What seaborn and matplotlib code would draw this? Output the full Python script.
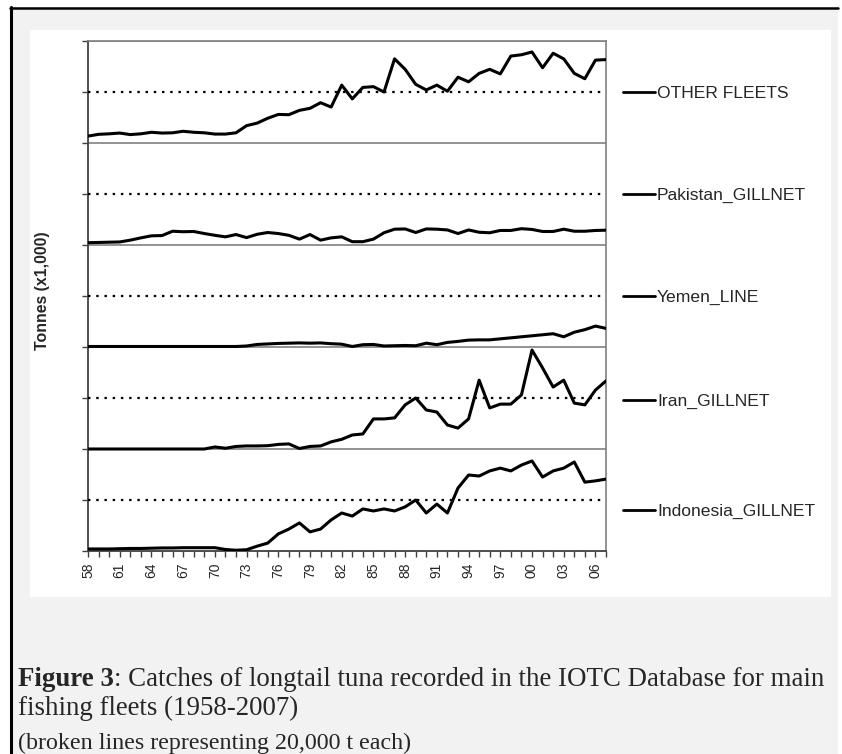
import numpy as np
import pandas as pd
import matplotlib
matplotlib.use("Agg")
import matplotlib.pyplot as plt
import seaborn as sns
from matplotlib.lines import Line2D
from matplotlib.patches import Rectangle

# ---------------- data (thousand tonnes) ----------------
years = list(range(1958, 2008))
fleets = ["OTHER FLEETS", "Pakistan_GILLNET", "Yemen_LINE", "Iran_GILLNET", "Indonesia_GILLNET"]

other_fleets = [2.7, 3.4, 3.6, 3.9, 3.3, 3.6, 4.2, 3.9, 4.0, 4.6,
                4.2, 4.0, 3.5, 3.5, 4.0, 6.8, 7.8, 9.7, 11.2, 11.1,
                12.8, 13.6, 15.8, 14.1, 22.7, 17.3, 21.8, 22.1, 20.0, 33.0,
                28.9, 23.0, 20.8, 22.7, 20.3, 25.8, 24.0, 27.3, 28.9, 27.1,
                34.1, 34.6, 35.7, 29.5, 35.2, 33.0, 27.3, 25.2, 32.5, 32.7]
pakistan_gillnet = [0.9, 1.0, 1.1, 1.2, 1.9, 2.8, 3.6, 3.7, 5.4, 5.2,
                    5.3, 4.5, 3.8, 3.2, 4.1, 2.9, 4.2, 4.9, 4.5, 3.8,
                    2.3, 4.1, 1.9, 2.8, 3.2, 1.3, 1.3, 2.3, 4.8, 6.2,
                    6.3, 4.9, 6.3, 6.2, 5.9, 4.5, 5.9, 5.0, 4.8, 5.7,
                    5.7, 6.4, 6.1, 5.3, 5.3, 6.2, 5.4, 5.4, 5.7, 5.8]
yemen_line = [0.2, 0.2, 0.2, 0.2, 0.2, 0.2, 0.2, 0.2, 0.2, 0.2,
              0.2, 0.2, 0.2, 0.2, 0.2, 0.4, 1.0, 1.2, 1.4, 1.5,
              1.6, 1.5, 1.6, 1.3, 1.1, 0.2, 0.9, 1.0, 0.4, 0.5,
              0.6, 0.5, 1.5, 0.9, 1.8, 2.2, 2.7, 2.8, 2.8, 3.2,
              3.6, 4.0, 4.4, 4.8, 5.2, 4.0, 5.8, 6.8, 8.2, 7.3]
iran_gillnet = [0.0, 0.0, 0.0, 0.0, 0.0, 0.0, 0.0, 0.0, 0.0, 0.0,
                0.0, 0.0, 0.8, 0.3, 1.0, 1.2, 1.2, 1.3, 1.8, 2.0,
                0.2, 1.0, 1.2, 2.8, 3.8, 5.5, 5.9, 11.8, 11.8, 12.2,
                17.3, 20.0, 15.3, 14.5, 9.4, 8.2, 11.8, 27.0, 16.1, 17.6,
                17.6, 21.2, 38.8, 31.8, 24.3, 27.0, 18.0, 17.3, 23.1, 26.7]
indonesia_gillnet = [0.8, 0.8, 0.8, 0.9, 1.0, 1.0, 1.1, 1.2, 1.2, 1.3,
                     1.3, 1.3, 1.3, 0.6, 0.3, 0.5, 1.9, 3.1, 6.7, 8.6,
                     11.0, 7.5, 8.6, 12.2, 14.9, 13.7, 16.5, 15.7, 16.5, 15.7,
                     17.3, 20.0, 14.9, 18.4, 14.9, 24.7, 29.8, 29.4, 31.4, 32.5,
                     31.4, 33.7, 35.3, 29.0, 31.4, 32.5, 34.9, 27.0, 27.5, 28.2]

series = [other_fleets, pakistan_gillnet, yemen_line, iran_gillnet, indonesia_gillnet]
panel_size = 40000  # each fleet gets its own 40,000 t band
n = len(fleets)

rows = []
for k, (name, vals) in enumerate(zip(fleets, series)):
    offset = (n - 1 - k) * panel_size
    for y, v in zip(years, vals):
        rows.append({"year": y, "fleet": name, "plotted": offset + v * 1000})
df = pd.DataFrame(rows)

# ---------------- figure ----------------
sns.set_theme(style="white")
plt.rcParams["font.family"] = ["Liberation Sans", "DejaVu Sans"]

W, H = 842, 754
fig = plt.figure(figsize=(W / 100, H / 100), dpi=100, facecolor="white")

def fx(px):
    return px / W

def fy(py):
    return 1 - py / H

# gray page box with black border (left/top)
fig.patches.append(Rectangle((fx(10), fy(754)), fx(828), (754 - 7) / H,
                             transform=fig.transFigure, facecolor="#f2f2f2",
                             edgecolor="none", zorder=-3))
fig.add_artist(Line2D([fx(10.5), fx(10.5)], [fy(7), fy(754)], color="black", lw=2.2,
                      transform=fig.transFigure, zorder=-1))
fig.add_artist(Line2D([fx(10), fx(838)], [fy(7.5), fy(7.5)], color="black", lw=1.8,
                      transform=fig.transFigure, zorder=-1))
# white chart area
fig.patches.append(Rectangle((fx(30), fy(597)), fx(801), (597 - 30) / H,
                             transform=fig.transFigure, facecolor="white",
                             edgecolor="none", zorder=-2))

ax = fig.add_axes([fx(88), fy(551), fx(606 - 88), (551 - 41) / H])
ax.set_zorder(2)
ax.set_facecolor("white")

sns.lineplot(data=df, x="year", y="plotted", hue="fleet", hue_order=fleets,
             palette=["black"] * n, linewidth=2.2, legend=False, ax=ax, zorder=5)

ax.set_xlim(years[0], years[-1])
ax.set_ylim(0, panel_size * n)

# panel separators and 20,000 t broken lines
for k in range(1, n + 1):
    ax.axhline(k * panel_size, color="#808080", lw=1.2, zorder=2)
for k in range(n):
    ax.axhline(k * panel_size + panel_size / 2, color="black", lw=1.6,
               linestyle=(0, (1.1, 2.6)), zorder=3)

for side in ["top", "right"]:
    ax.spines[side].set_visible(True)
    ax.spines[side].set_color("#808080")
    ax.spines[side].set_linewidth(1.2)
for side in ["left", "bottom"]:
    ax.spines[side].set_color("#404040")
    ax.spines[side].set_linewidth(1.3)

ax.set_yticks(np.arange(0, panel_size * n + 1, panel_size / 2))
ax.set_yticklabels([])
ax.tick_params(axis="y", direction="out", length=4, width=1.0, color="#404040", left=True)

ax.set_xticks(years)
ax.set_xticklabels([f"{y % 100:02d}" if (y - years[0]) % 3 == 0 else "" for y in years],
                   rotation=90, fontsize=10)
ax.tick_params(axis="x", direction="out", length=4.5, width=1.0, color="#404040",
               bottom=True, pad=4)

ax.set_xlabel("")
ax.set_ylabel("")
fig.text(fx(42), fy(291), "Tonnes (x1,000)", rotation=90, ha="center", va="center",
         fontsize=11.4, fontweight="bold")

# legend entries at right
legend_y = [92, 194, 296, 400, 510]
for name, ly in zip(fleets, legend_y):
    fig.add_artist(Line2D([fx(623), fx(655)], [fy(ly), fy(ly)], color="black", lw=2.0,
                          transform=fig.transFigure))
    fig.text(fx(657), fy(ly + 1), name, ha="left", va="center", fontsize=12.6)

# caption
serif = ["Liberation Serif", "DejaVu Serif"]
cap_fs = 19.4
t = fig.text(fx(18), fy(680), "Figure 3", ha="left", va="center", fontsize=cap_fs,
             family=serif, fontweight="bold")
fig.canvas.draw()
bb = t.get_window_extent()
fig.text(bb.x1 / W, fy(680), ": Catches of longtail tuna recorded in the IOTC Database for main",
         ha="left", va="center", fontsize=cap_fs, family=serif)
fig.text(fx(18), fy(708), "fishing fleets (1958-2007)", ha="left", va="center",
         fontsize=cap_fs, family=serif)
fig.text(fx(18), fy(743), "(broken lines representing 20,000 t each)", ha="left", va="center",
         fontsize=17.3, family=serif)

fig.savefig("out.png", dpi=100, facecolor="white")
